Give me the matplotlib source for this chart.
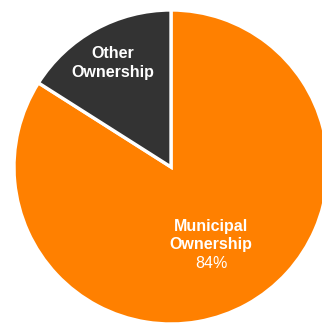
import matplotlib.pyplot as plt

# Ownership share (percent)
labels = ["Municipal\nOwnership", "Other\nOwnership"]
shares = [84, 16]
colors = ["#ff8000", "#333333"]

W, H = 322, 323
fig = plt.figure(figsize=(W / 100, H / 100), dpi=100)
ax = fig.add_axes([0, 0, 1, 1])
ax.set_xlim(0, W)
ax.set_ylim(0, H)
ax.set_aspect("equal")
ax.axis("off")

cx, cy, r = 171, H - 167, 157
ax.pie(shares, colors=colors, startangle=90, counterclock=False,
       center=(cx, cy), radius=r, frame=True,
       wedgeprops=dict(edgecolor="white", linewidth=2.4))
ax.set_xlim(0, W)
ax.set_ylim(0, H)
ax.axis("off")

font = dict(family=["Liberation Sans", "DejaVu Sans"], color="white",
            fontsize=11.5, ha="center", va="center")

# labels for the small slice
ax.text(113, H - 54, "Other", fontweight="bold", **font)
ax.text(113, H - 73, "Ownership", fontweight="bold", **font)

# labels for the large slice, with its percentage
ax.text(211, H - 227, "Municipal", fontweight="bold", **font)
ax.text(211, H - 245, "Ownership", fontweight="bold", **font)
ax.text(211, H - 263, f"{shares[0]}%", **font)

fig.savefig("out.png", dpi=100)
